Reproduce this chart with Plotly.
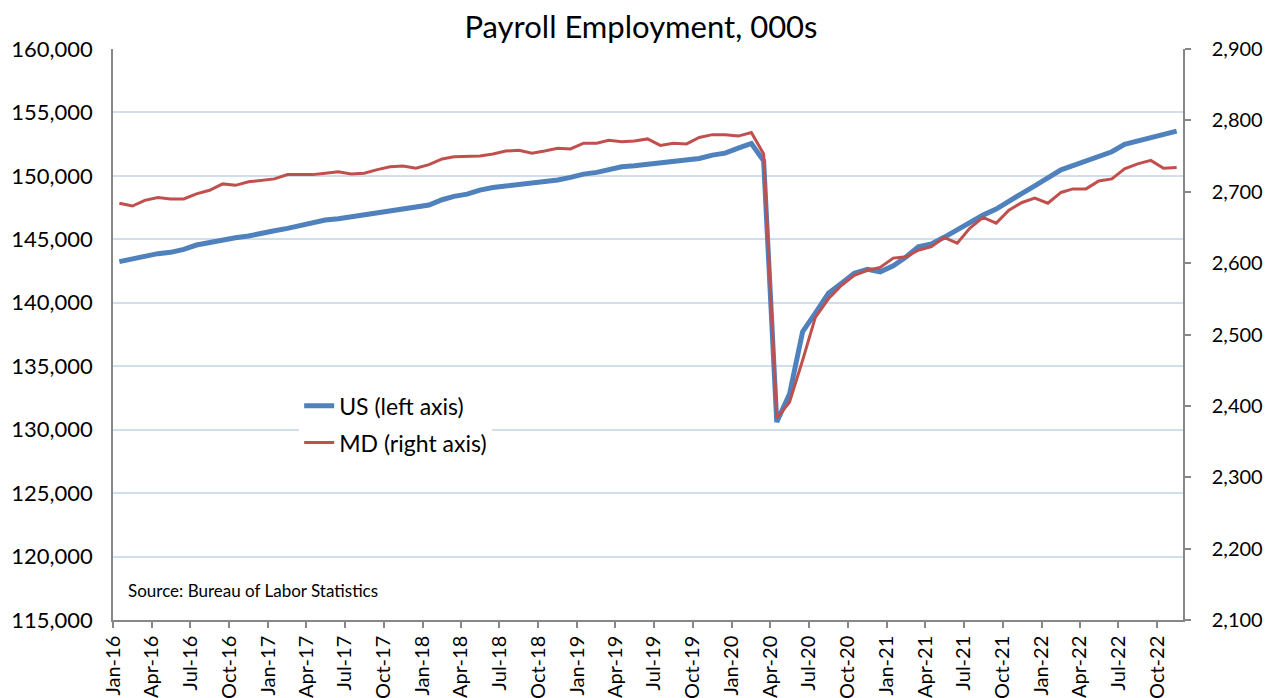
import pandas as pd
import plotly.graph_objects as go

# Monthly payroll employment, thousands, Jan 2016 - Nov 2022
start_month = "2016-01-01"
n_months = 83

us_jobs = [
    143240, 143475, 143710, 143870, 143975, 144210, 144550, 144735, 145000, 145130, 145260, 145495,
    145680, 145865, 146075, 146310, 146520, 146620, 146780, 146910, 147045, 147230, 147410, 147600,
    147700, 148120, 148385, 148565, 148880, 149090, 149200, 149355, 149485, 149590, 149680, 149880,
    150140, 150275, 150510, 150720, 150800, 150930, 151035, 151140, 151270, 151375, 151640, 151795,
    152190, 152555, 151190, 130600, 132800, 137720, 139180, 140750, 141540, 142330, 142630, 142440,
    142920, 143630, 144410, 144640, 145160, 145750, 146400, 146910, 147380, 148030, 148630, 149220,
    149830, 150480, 150800, 151180, 151560, 151900, 152480, 152760, 153030, 153340, 153530,
]

md_jobs = [
    2684, 2680, 2688, 2692, 2690, 2690, 2697, 2702, 2711, 2709, 2714, 2716,
    2718, 2724, 2724, 2724, 2726, 2728, 2725, 2726, 2731, 2735, 2736, 2733,
    2738, 2746, 2749, 2749, 2750, 2753, 2757, 2758, 2754, 2757, 2761, 2760,
    2768, 2768, 2772, 2770, 2771, 2774, 2765, 2768, 2767, 2776, 2780, 2780,
    2778, 2783, 2753, 2383, 2405, 2464, 2524, 2550, 2569, 2583, 2590, 2594,
    2607, 2609, 2618, 2623, 2636, 2628, 2649, 2664, 2656, 2674, 2685, 2691,
    2684, 2699, 2704, 2704, 2715, 2718, 2732, 2739, 2744, 2733, 2734,
]

# points sit mid-month, tick labels sit on the first of the month
months = pd.date_range(start_month, periods=n_months, freq="MS") + pd.Timedelta(days=15)

FONT = "Lato"
AXIS_GRAY = "#878787"
GRID = "#D3DEED"

# page body has an 8px margin, so the figure is 8px smaller than the window
W, H = 1266, 690

fig = go.Figure()

fig.add_trace(go.Scatter(
    x=months, y=us_jobs, name="US (left axis)",
    mode="lines", line=dict(color="#4F81BD", width=5),
    legendgroup="us",
))
fig.add_trace(go.Scatter(
    x=months, y=md_jobs, name="MD (right axis)", yaxis="y2",
    mode="lines", line=dict(color="#C0504D", width=3),
    legendgroup="md",
))

fig.update_layout(
    width=W, height=H,
    margin=dict(l=105, r=91, t=41, b=78),
    paper_bgcolor="white", plot_bgcolor="white",
    font=dict(family=FONT, size=21, color="black"),
    title=dict(text="Payroll Employment, 000s", x=0.5, xanchor="center",
               y=1 - 19 / H, yanchor="middle",
               font=dict(family=FONT, size=31, color="black")),
    showlegend=True,
    legend=dict(x=0.174, y=0.413, xanchor="left", yanchor="top",
                bgcolor="white", font=dict(size=23), tracegroupgap=4),
    xaxis=dict(
        type="date", range=["2016-01-01", "2022-12-01"], automargin=False,
        tick0="2016-01-01", dtick="M3", tickformat="%b-%y", tickangle=-90,
        showgrid=False, showline=True, linecolor=AXIS_GRAY, linewidth=1.5,
        ticks="outside", ticklen=6, tickcolor=AXIS_GRAY, tickwidth=1.5,
        tickfont=dict(size=20),
    ),
    yaxis=dict(
        range=[115000, 160000], dtick=5000, tickformat=",", automargin=False,
        showgrid=True, gridcolor=GRID, gridwidth=1.5,
        showline=True, linecolor=AXIS_GRAY, linewidth=1.5,
        ticks="", ticklabelstandoff=14, zeroline=False,
        tickfont=dict(size=22),
    ),
    yaxis2=dict(
        range=[2100, 2900], dtick=100, tickformat=",", automargin=False,
        overlaying="y", side="right", showgrid=False,
        showline=True, linecolor=AXIS_GRAY, linewidth=1.5,
        ticks="outside", ticklen=6, tickcolor=AXIS_GRAY, tickwidth=1.5,
        ticklabelstandoff=17, zeroline=False,
        tickfont=dict(size=20),
    ),
    annotations=[dict(
        text="Source: Bureau of Labor Statistics", xref="paper", yref="paper",
        x=0.012, y=0.051, xanchor="left", yanchor="middle", showarrow=False,
        font=dict(family=FONT, size=17, color="black"),
    )],
)

fig.write_html("out.html")
